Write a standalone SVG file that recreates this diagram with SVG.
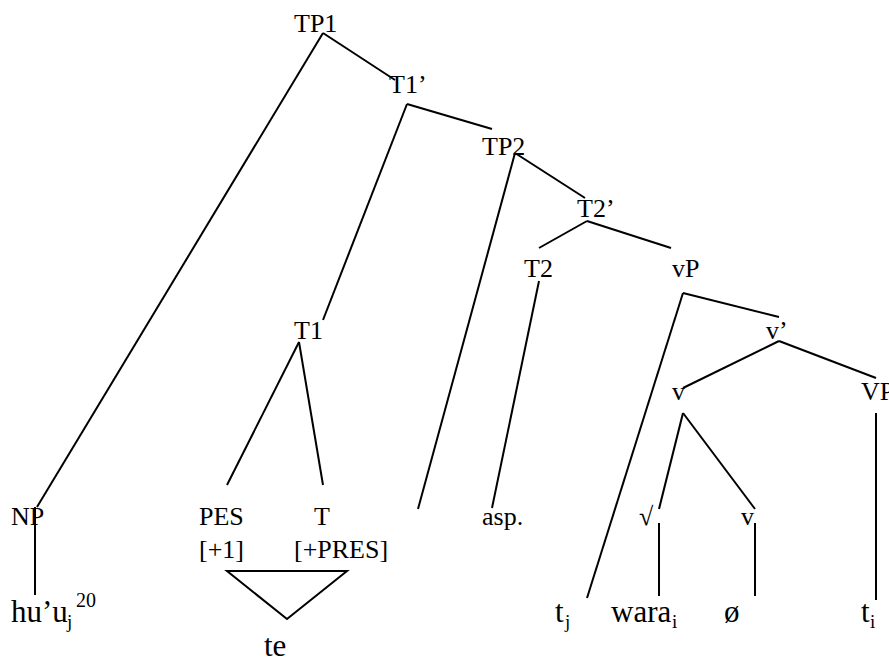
<svg xmlns="http://www.w3.org/2000/svg" width="889" height="659" viewBox="0 0 889 659">
<style>
text{font-family:'Liberation Serif','Times New Roman','DejaVu Serif',serif;fill:#000}
.l{font-size:26px}
.b{font-size:31px}
.s{font-size:19px}
.sup{font-size:20px}
#edges line,#edges polygon{stroke:#000;stroke-width:2;fill:none;stroke-linecap:butt}
</style>
<rect width="889" height="659" fill="#fff"/>
<g id="edges">
<line x1="323" y1="33" x2="395" y2="80"/>
<line x1="323" y1="33" x2="37" y2="507"/>
<line x1="35" y1="507" x2="35" y2="595"/>
<line x1="407" y1="104" x2="492" y2="129"/>
<line x1="407" y1="104" x2="323" y2="320"/>
<line x1="515" y1="153" x2="585" y2="198"/>
<line x1="515" y1="153" x2="418" y2="509"/>
<line x1="587" y1="221" x2="539" y2="248"/>
<line x1="587" y1="221" x2="671" y2="248"/>
<line x1="539" y1="281" x2="492" y2="508"/>
<line x1="683" y1="293" x2="779" y2="317"/>
<line x1="683" y1="293" x2="587" y2="598"/>
<line x1="779" y1="341" x2="683" y2="388"/>
<line x1="779" y1="341" x2="876" y2="378"/>
<line x1="683" y1="413" x2="659" y2="509"/>
<line x1="683" y1="413" x2="755" y2="509"/>
<line x1="659" y1="523" x2="659" y2="596"/>
<line x1="755" y1="523" x2="755" y2="596"/>
<line x1="876" y1="413" x2="876" y2="600"/>
<line x1="299" y1="342" x2="227" y2="485"/>
<line x1="299" y1="342" x2="323" y2="485"/>
<polygon points="227,571 347,571 287,619"/>
</g>
<g id="labels" font-family="Liberation Serif, serif">
<g id="TP1"><text class="l" x="294" y="32">TP1</text></g>
<g id="T1bar"><text class="l" x="389" y="93">T1’</text></g>
<g id="TP2"><text class="l" x="482" y="155">TP2</text></g>
<g id="T2bar"><text class="l" x="577" y="217">T2’</text></g>
<g id="T2"><text class="l" x="524" y="277">T2</text></g>
<g id="vP"><text class="l" x="672" y="277">vP</text></g>
<g id="vbar"><text class="l" x="766" y="339">v’</text></g>
<g id="T1"><text class="l" x="294" y="339">T1</text></g>
<g id="v"><text class="l" x="672" y="400">v</text></g>
<g id="VP"><text class="l" x="861" y="400">VP</text></g>
<g id="NP"><text class="l" x="11" y="525">NP</text></g>
<g id="PES"><text class="l" x="199" y="525">PES</text><text class="l" x="199" y="558">[+1]</text></g>
<g id="T"><text class="l" x="314" y="525">T</text><text class="l" x="294" y="558">[+PRES]</text></g>
<g id="asp"><text class="l" x="482" y="525">asp.</text></g>
<g id="root"><text class="l" x="639" y="525">√</text></g>
<g id="v2"><text class="l" x="741" y="525">v</text></g>
<g id="huu"><text class="b" x="11" y="622" font-size="30">hu’u</text><text class="s" x="67" y="628">j</text><text class="sup" x="76" y="607">20</text></g>
<g id="te"><text class="b" x="264" y="656">te</text></g>
<g id="tj"><text class="b" x="555" y="622">t</text><text class="s" x="565" y="628">j</text></g>
<g id="warai"><text class="b" x="611" y="622">wara</text><text class="s" x="672" y="628">i</text></g>
<g id="null"><text class="b" x="724" y="622">ø</text></g>
<g id="ti"><text class="b" x="861" y="622">t</text><text class="s" x="870" y="628">i</text></g>
</g>
</svg>
